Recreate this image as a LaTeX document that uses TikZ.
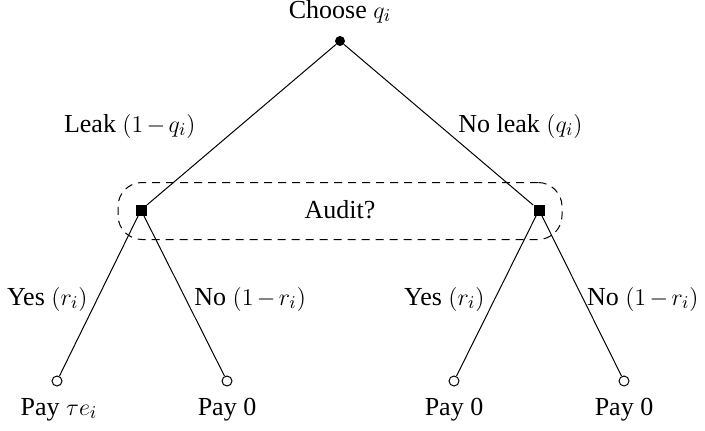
\documentclass[tikz,border=0pt]{standalone}
\usepackage{fontspec}
\setmainfont{Liberation Serif}
\medmuskip=2.5mu plus 1mu minus 2mu
\begin{document}
\begin{tikzpicture}[x=0.5pt,y=-0.5pt,
  every node/.style={font=\fontsize{13}{15}\selectfont},
  root/.style={circle,fill=black,inner sep=0pt,minimum size=5pt},
  info/.style={rectangle,fill=black,inner sep=0pt,minimum size=5.5pt},
  leaf/.style={circle,draw=black,fill=white,line width=0.5pt,inner sep=0pt,minimum size=5pt},
  edge/.style={line width=0.5pt},
  lbl/.style={anchor=base,inner sep=0pt},
  infoset/.style={draw,dashed,dash pattern=on 4pt off 3pt,rounded corners=12pt,line width=0.5pt,
     minimum width=222pt,minimum height=28.5pt,inner sep=0pt}]
\useasboundingbox (0,0) rectangle (705,430);
\node[infoset] (audit) at (340,211) {};
\node[lbl] (audittxt) at (340,218) {Audit?};
\node[root] (r) at (340,41) {};
\node[info] (L) at (141,210) {};
\node[info] (R) at (539,210) {};
\node[leaf] (l1) at (57,381) {};
\node[leaf] (l2) at (227,381) {};
\node[leaf] (l3) at (454,381) {};
\node[leaf] (l4) at (624,381) {};
\draw[edge] (r) -- (L);
\draw[edge] (r) -- (R);
\draw[edge] (L) -- (l1);
\draw[edge] (L) -- (l2);
\draw[edge] (R) -- (l3);
\draw[edge] (R) -- (l4);
\node[lbl] (choose) at (340,18) {Choose $q_i$};
\node[lbl,anchor=base east] (leak) at (196,132) {Leak $(1-q_i)$};
\node[lbl,anchor=base west] (noleak) at (458,132) {No leak $(q_i)$};
\node[lbl,anchor=base east] (y1) at (88,305) {Yes $(r_i)$};
\node[lbl,anchor=base west] (n1) at (194,305) {No $(1-r_i)$};
\node[lbl,anchor=base east] (y2) at (485,305) {Yes $(r_i)$};
\node[lbl,anchor=base east] (n2) at (699,305) {No $(1-r_i)$};
\node[lbl] (p1) at (59,415) {Pay $\tau e_i$};
\node[lbl] (p2) at (227,415) {Pay 0};
\node[lbl] (p3) at (454,415) {Pay 0};
\node[lbl] (p4) at (624,415) {Pay 0};
\end{tikzpicture}
\end{document}
